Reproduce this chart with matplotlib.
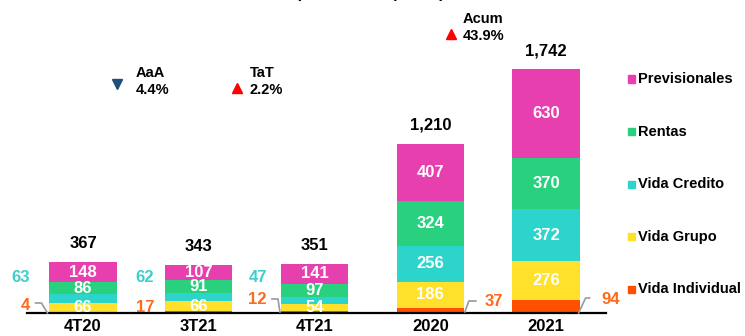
import matplotlib
matplotlib.use("Agg")
import matplotlib.pyplot as plt
from matplotlib.lines import Line2D
from matplotlib.transforms import IdentityTransform

plt.rcParams['font.family'] = ['Liberation Sans', 'DejaVu Sans']

# Data
categories = ["4T20", "3T21", "4T21", "2020", "2021"]
vida_individual = [4, 17, 12, 37, 94]
vida_grupo = [66, 66, 54, 186, 276]
vida_credito = [63, 62, 47, 256, 372]
rentas = [86, 91, 97, 324, 370]
previsionales = [148, 107, 141, 407, 630]
totals = ["367", "343", "351", "1,210", "1,742"]

series = [
    ("Vida Individual", vida_individual, "#FF5000"),
    ("Vida Grupo", vida_grupo, "#FFE02A"),
    ("Vida Credito", vida_credito, "#2DD4CC"),
    ("Rentas", rentas, "#29D17F"),
    ("Previsionales", previsionales, "#E83FAE"),
]

W, H = 745, 336
fig = plt.figure(figsize=(W / 100, H / 100), dpi=100)
ax = fig.add_axes([27 / W, 23 / H, (606 - 27) / W, 313 / H])
ax.set_xlim(-0.484, 4.518)
ax.set_ylim(0, 313 / 0.1398)
for s in ax.spines.values():
    s.set_visible(False)
ax.spines['bottom'].set_visible(True)
ax.spines['bottom'].set_linewidth(1.6)
ax.set_yticks([])
x = list(range(len(categories)))
ax.set_xticks(x)
ax.set_xticklabels(categories, fontsize=12, fontweight='bold')
ax.tick_params(axis='x', length=0, pad=4)

bw = 0.58
bottoms = [0] * len(x)
for name, vals, col in series:
    ax.bar(x, vals, bw, bottom=bottoms, color=col, label=name, linewidth=0)
    for i, v in enumerate(vals):
        mid = bottoms[i] + v / 2
        big = i >= 3
        if name == "Vida Individual":
            pass
        elif name == "Vida Credito" and not big:
            pass
        else:
            ax.text(i, mid, str(v), ha='center', va='center', color='white',
                    fontsize=12, fontweight='bold')
    bottoms = [b + v for b, v in zip(bottoms, vals)]

# Totals above bars
for i, t in enumerate(totals):
    ax.annotate(t, (i, bottoms[i]), xytext=(0, 8), textcoords='offset points',
                ha='center', va='bottom', fontsize=12, fontweight='bold')

fig.canvas.draw()
to_px = ax.transData.transform

# Vida Credito labels left of the quarterly bars
cred_gap = [20, 11, 14]
for i in range(3):
    lx, ly = to_px((i - bw / 2, 0))
    fig.text((lx - cred_gap[i]) / W, (ly + 35) / H, str(vida_credito[i]),
             ha='right', va='center', color='#3CCFCB', fontsize=12,
             fontweight='bold')

# Vida Individual labels with leader lines (pixel offsets from bar corner)
orange = '#FF6A1A'
leaders = [
    (-1, [(-2, 0), (-8, 10), (-14, 10)], (-19, 8), 'right'),
    (-1, None, (-11, 6), 'right'),
    (-1, [(-1, 1), (-3, 14), (-9, 14)], (-14, 13), 'right'),
    (1, [(1, 1), (5, 12), (12, 12)], (21, 11), 'left'),
    (1, [(-1, 0), (6, 15), (10, 15)], (22, 13), 'left'),
]
for i, (side, pts, toff, ha) in enumerate(leaders):
    cx, cy = to_px((i + side * bw / 2, 0))
    if pts:
        xs = [cx + p[0] for p in pts]
        ys = [cy + p[1] for p in pts]
        fig.add_artist(Line2D(xs, ys, transform=IdentityTransform(),
                              color='#9A9A9A', lw=1.2))
    fig.text((cx + toff[0]) / W, (cy + toff[1]) / H, str(vida_individual[i]),
             ha=ha, va='center', color=orange, fontsize=12, fontweight='bold')

# Legend
for k, (name, vals, col) in enumerate(reversed(series)):
    yc = H - (79 + 52.6 * k)
    fig.add_artist(plt.Rectangle((628 / W, (yc - 3.5) / H), 7 / W, 7 / H,
                                 color=col, transform=fig.transFigure))
    fig.text(638 / W, yc / H, name, ha='left', va='center', fontsize=10.5,
             fontweight='bold')

# Growth indicators
def growth(tx, ty, head, pct, mx, my, marker, mcol):
    fig.text(tx / W, (H - ty) / H, head, ha='left', va='center',
             fontsize=10.5, fontweight='bold')
    fig.text(tx / W, (H - ty - 17) / H, pct, ha='left', va='center',
             fontsize=10.5, fontweight='bold')
    fig.add_artist(Line2D([mx / W], [(H - my) / H], marker=marker,
                          color=mcol, markersize=7, linestyle='none',
                          transform=fig.transFigure))

growth(136, 73, "AaA", "4.4%", 117, 84, 'v', '#1F4E79')
growth(250, 73, "TaT", "2.2%", 237, 88, '^', '#FF0000')
growth(463, 19, "Acum", "43.9%", 451, 34, '^', '#FF0000')

# Title, running off the top edge
fig.text(370 / W, 1.0 + 2 / H, "(Millones de pesos)", ha='center',
         va='baseline', fontsize=11.5, fontweight='bold')

fig.savefig("out.png", dpi=100)
